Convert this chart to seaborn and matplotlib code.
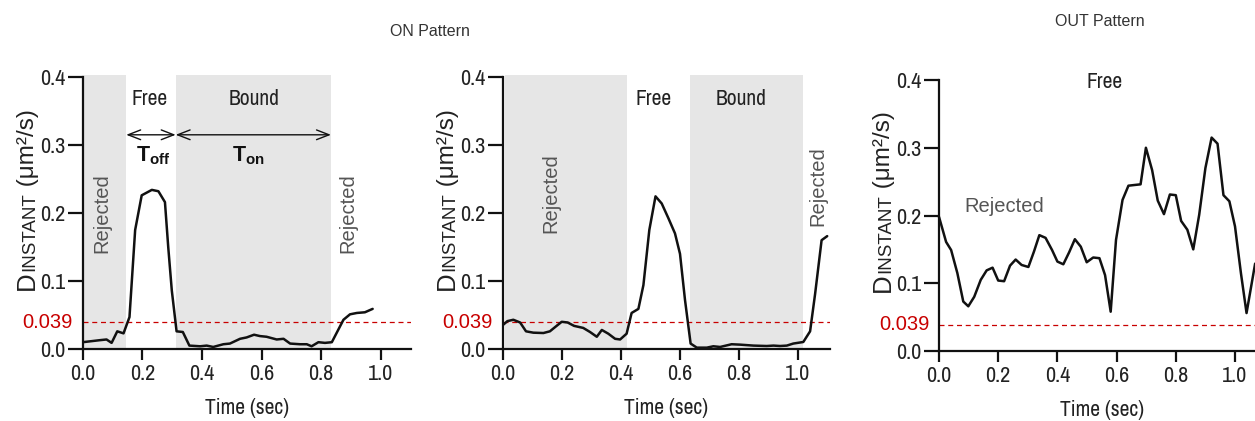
import numpy as np
import pandas as pd
import matplotlib
matplotlib.use("Agg")
import matplotlib.pyplot as plt
import seaborn as sns
from matplotlib import font_manager

# ---------------- data ----------------
t_on1 = [0.0, 0.058, 0.08, 0.097, 0.116, 0.137, 0.157, 0.176, 0.198, 0.232, 0.254, 0.276,
         0.287, 0.299, 0.315, 0.336, 0.358, 0.394, 0.416, 0.438, 0.472, 0.494, 0.528,
         0.55, 0.575, 0.595, 0.617, 0.651, 0.674, 0.696, 0.729, 0.752, 0.768, 0.791,
         0.813, 0.836, 0.875, 0.897, 0.92, 0.947, 0.973]
d_on1 = [0.010, 0.013, 0.014, 0.009, 0.026, 0.023, 0.047, 0.175, 0.226, 0.234, 0.232, 0.216,
         0.150, 0.086, 0.026, 0.025, 0.005, 0.004, 0.005, 0.003, 0.007, 0.008, 0.015,
         0.017, 0.021, 0.019, 0.018, 0.014, 0.015, 0.008, 0.007, 0.007, 0.004, 0.010,
         0.009, 0.010, 0.043, 0.051, 0.053, 0.054, 0.059]

t_on2 = [0.0, 0.016, 0.036, 0.059, 0.079, 0.104, 0.138, 0.16, 0.177, 0.2, 0.22, 0.242, 0.273,
         0.296, 0.319, 0.336, 0.358, 0.381, 0.398, 0.42, 0.437, 0.46, 0.477, 0.497, 0.518,
         0.539, 0.562, 0.584, 0.601, 0.618, 0.637, 0.658, 0.692, 0.714, 0.737, 0.776,
         0.805, 0.85, 0.895, 0.918, 0.94, 0.963, 0.985, 1.019, 1.042, 1.059, 1.081, 1.1]
d_on2 = [0.035, 0.041, 0.043, 0.039, 0.026, 0.024, 0.0235, 0.026, 0.032, 0.040, 0.039, 0.034,
         0.031, 0.025, 0.018, 0.028, 0.0225, 0.015, 0.014, 0.0225, 0.053, 0.059, 0.094,
         0.175, 0.2245, 0.214, 0.192, 0.170, 0.140, 0.072, 0.008, 0.002, 0.002, 0.004,
         0.003, 0.007, 0.0064, 0.005, 0.0044, 0.005, 0.0044, 0.005, 0.008, 0.0103, 0.026,
         0.081, 0.160, 0.166]

t_out = [0.0, 0.024, 0.041, 0.062, 0.082, 0.099, 0.119, 0.141, 0.161, 0.181, 0.2, 0.22, 0.24,
         0.259, 0.279, 0.302, 0.321, 0.339, 0.36, 0.382, 0.4, 0.42, 0.44, 0.459, 0.479,
         0.499, 0.521, 0.542, 0.561, 0.58, 0.598, 0.62, 0.64, 0.66, 0.681, 0.699, 0.72,
         0.739, 0.76, 0.78, 0.8, 0.818, 0.839, 0.859, 0.879, 0.9, 0.921, 0.941, 0.961,
         0.981, 1.0, 1.02, 1.039, 1.068]
d_out = [0.198, 0.161, 0.149, 0.115, 0.073, 0.066, 0.080, 0.105, 0.119, 0.123, 0.104, 0.103,
         0.126, 0.135, 0.127, 0.124, 0.147, 0.171, 0.167, 0.149, 0.132, 0.128, 0.146, 0.165,
         0.154, 0.131, 0.138, 0.137, 0.112, 0.058, 0.164, 0.223, 0.244, 0.245, 0.246,
         0.300, 0.267, 0.222, 0.202, 0.231, 0.230, 0.192, 0.179, 0.150, 0.201, 0.270,
         0.315, 0.306, 0.230, 0.221, 0.184, 0.115, 0.056, 0.129]

threshold = 0.039
xticks = [0.0, 0.2, 0.4, 0.6, 0.8, 1.0]
yticks = [0.0, 0.1, 0.2, 0.3, 0.4]

# shaded segments (start, end) per ON panel
shade_on1 = [(0.0, 0.146), (0.312, 0.833)]
shade_on2 = [(0.008, 0.422), (0.636, 1.019)]

# ---------------- style ----------------
sns.set_style("ticks")
names = {f.name for f in font_manager.fontManager.ttflist}
NARROW = "Liberation Sans"
for cand in ["Liberation Sans Narrow", "Arial Narrow", "Archivo Narrow", "PT Sans Narrow",
             "Roboto Condensed", "Pragati Narrow"]:
    if cand in names:
        NARROW = cand
        break
REG = "Liberation Sans"
plt.rcParams["font.family"] = [NARROW, "DejaVu Sans"]
plt.rcParams["mathtext.fontset"] = "custom"
plt.rcParams["mathtext.rm"] = REG
plt.rcParams["mathtext.bf"] = REG + ":bold"
plt.rcParams["mathtext.it"] = REG + ":italic"

W, H = 1255, 421
fig = plt.figure(figsize=(W / 100, H / 100), dpi=100)

def px_axes(left, right, top, bottom):
    return fig.add_axes([left / W, 1 - bottom / H, (right - left) / W, (bottom - top) / H])

ax1 = px_axes(82.7, 82.7 + 1.10 * 298, 77, 349)
ax2 = px_axes(502.7, 502.7 + 1.11 * 295, 77, 349)
ax3 = px_axes(939, 939 + 1.10 * 296, 80, 351)

LINE = "#111111"
SHADE = "#e6e6e6"
RED = "#c80000"
TXT = "#222222"
GRAY = "#555555"

def style_axis(ax, xmax):
    ax.set_xlim(0, xmax)
    ax.set_ylim(0, 0.4)
    ax.set_xticks(xticks)
    ax.set_yticks(yticks)
    ax.set_xticklabels([f"{v:.1f}" for v in xticks])
    ax.set_yticklabels([f"{v:.1f}" for v in yticks])
    for s in ["top", "right"]:
        ax.spines[s].set_visible(False)
    for s in ["left", "bottom"]:
        ax.spines[s].set_linewidth(1.6)
        ax.spines[s].set_color("#111111")
    ax.tick_params(axis="both", width=1.6, color="#111111",
                   labelsize=16, labelcolor="#222222")
    ax.tick_params(axis="y", length=10.5, pad=2)
    ax.tick_params(axis="x", length=8, pad=3)
    ax.set_xlabel("Time (sec)", fontsize=15.5, color=TXT, labelpad=10)
    ax.set_ylabel("")
    ax.axhline(threshold, color=RED, lw=0.9, ls=(0, (4, 3)), zorder=1)
    ax.annotate("0.039", xy=(0, threshold), xycoords=("axes fraction", "data"),
                xytext=(-7, 0), textcoords="offset points",
                ha="right", va="center", fontsize=14.5, color=RED, family=REG)
    ax.set_facecolor("none")

for ax, spans in [(ax1, shade_on1), (ax2, shade_on2)]:
    for a, b in spans:
        ax.axvspan(a, b, ymin=0, ymax=1.006, color=SHADE, lw=0, zorder=0, clip_on=False)

sns.lineplot(x=t_on1, y=d_on1, ax=ax1, color=LINE, lw=1.8, zorder=3)
sns.lineplot(x=t_on2, y=d_on2, ax=ax2, color=LINE, lw=1.8, zorder=3)
sns.lineplot(x=t_out, y=d_out, ax=ax3, color=LINE, lw=1.8, zorder=3, clip_on=False)

style_axis(ax1, 1.10)
style_axis(ax2, 1.11)
style_axis(ax3, 1.10)

# ---------- annotations ----------
FS_LAB = 15.5
ax1.text(0.226, 0.367, "Free", ha="center", va="center", fontsize=FS_LAB, color=TXT)
ax1.text(0.575, 0.367, "Bound", ha="center", va="center", fontsize=FS_LAB, color=TXT)
ax1.text(0.064, 0.2, "Rejected", rotation=90, ha="center", va="center", fontsize=14.5, color=GRAY, family=REG)
ax1.text(0.89, 0.2, "Rejected", rotation=90, ha="center", va="center", fontsize=14.5, color=GRAY, family=REG)
arrow_kw = dict(arrowstyle="<->,head_length=0.9,head_width=0.35", color="#111111", lw=1.0,
                shrinkA=0, shrinkB=0)
ax1.annotate("", xy=(0.146, 0.315), xytext=(0.312, 0.315), arrowprops=arrow_kw)
ax1.annotate("", xy=(0.312, 0.315), xytext=(0.833, 0.315), arrowprops=arrow_kw)
ax1.text(0.237, 0.285, r"$\mathbf{T_{off}}$", ha="center", va="center", fontsize=15.5, color="#111111")
ax1.text(0.555, 0.285, r"$\mathbf{T_{on}}$", ha="center", va="center", fontsize=15.5, color="#111111")

ax2.text(0.513, 0.367, "Free", ha="center", va="center", fontsize=FS_LAB, color=TXT)
ax2.text(0.808, 0.367, "Bound", ha="center", va="center", fontsize=FS_LAB, color=TXT)
ax2.text(0.164, 0.229, "Rejected", rotation=90, ha="center", va="center", fontsize=14.5, color=GRAY, family=REG)
ax2.text(1.07, 0.239, "Rejected", rotation=90, ha="center", va="center", fontsize=14.5, color=GRAY, family=REG)

ax3.text(0.56, 0.397, "Free", ha="center", va="center", fontsize=FS_LAB, color=TXT)
ax3.text(0.22, 0.213, "Rejected", ha="center", va="center", fontsize=14.5, color=GRAY, family=REG)

fig.text(430 / W, 1 - 32 / H, "ON Pattern", ha="center", va="center", fontsize=11.5, color="#333333", family=REG)
fig.text(1100 / W, 1 - 22 / H, "OUT Pattern", ha="center", va="center", fontsize=11.5, color="#333333", family=REG)

# ---------- small-caps y labels ----------
renderer = fig.canvas.get_renderer()

def ylabel_pieces(x_px, y_bottom_px):
    pieces = [("D", 18.5), ("INSTANT", 13.5), (" (\u03bcm\u00b2/s)", 17.5)]
    y = H - y_bottom_px
    for txt, fs in pieces:
        t = fig.text(x_px / W, y / H, txt, rotation=90, rotation_mode="anchor",
                     ha="left", va="baseline", fontsize=fs, color=TXT, family=REG,
                     transform=fig.transFigure)
        bb = t.get_window_extent(renderer)
        y += bb.height

ylabel_pieces(34, 290)
ylabel_pieces(454, 290)
ylabel_pieces(890, 292)

fig.savefig("out.png", dpi=100)
